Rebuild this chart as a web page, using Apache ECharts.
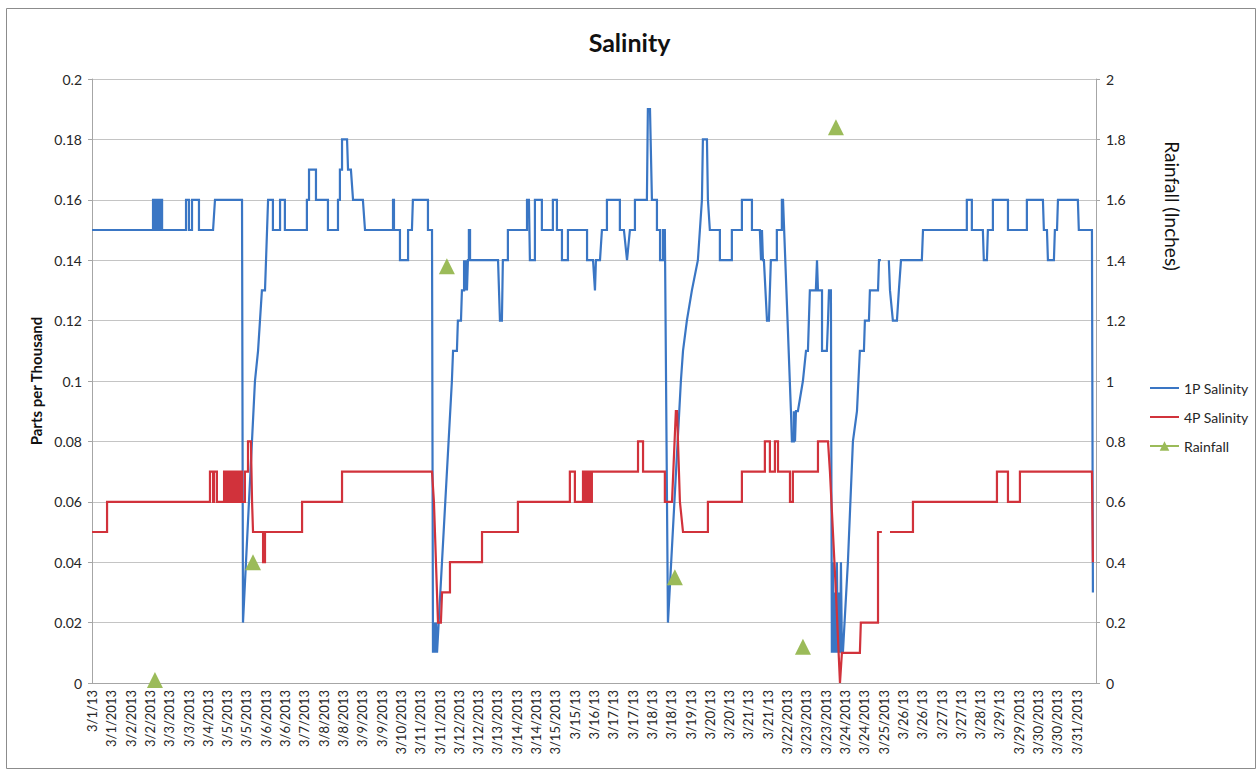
<!DOCTYPE html>
<html>
<head>
<meta charset="utf-8">
<title>Salinity</title>
<script src="https://cdn.jsdelivr.net/npm/echarts@6/dist/echarts.min.js"></script>
<style>
  html, body { margin: 0; padding: 0; background: #ffffff; }
  #chart { width: 1259px; height: 772px; }
</style>
</head>
<body>
<div id="chart"></div>
<script>
// Horizontal positions are given in tick-label slots: slot k sits under tickLabels[k].
const tickLabels = [
  '3/1/13', '3/1/2013', '3/2/2013', '3/2/2013', '3/3/2013', '3/3/2013', '3/4/2013',
  '3/5/2013', '3/5/2013', '3/6/2013', '3/6/2013', '3/7/2013', '3/8/2013', '3/8/2013',
  '3/9/2013', '3/9/2013', '3/10/2013', '3/11/2013', '3/11/2013', '3/12/2013', '3/12/2013',
  '3/13/2013', '3/14/2013', '3/14/2013', '3/15/2013', '3/15/13', '3/16/13', '3/17/13',
  '3/17/13', '3/18/13', '3/18/13', '3/19/13', '3/20/13', '3/20/13', '3/21/13', '3/21/13',
  '3/22/2013', '3/23/2013', '3/23/2013', '3/24/2013', '3/24/2013', '3/25/2013', '3/26/13',
  '3/26/13', '3/27/13', '3/27/13', '3/28/13', '3/29/13', '3/29/2013', '3/30/2013',
  '3/30/2013', '3/31/2013'
];

// 1P salinity (ppt): vertices [slot, value] of the logged trace
const sal1P = [
  [0, 0.15], [3.16, 0.15], [3.16, 0.16], [3.21, 0.16], [3.21, 0.15], [3.31, 0.15], [3.31, 0.16],
  [3.42, 0.16], [3.42, 0.15], [3.52, 0.15], [3.52, 0.16], [3.63, 0.16], [3.63, 0.15],
  [4.87, 0.15], [4.87, 0.16], [5.02, 0.16], [5.02, 0.15], [5.18, 0.15], [5.18, 0.16], [5.54, 0.16], [5.54, 0.15],
  [6.27, 0.15], [6.37, 0.16], [7.77, 0.16], [7.82, 0.02],
  [8.44, 0.10], [8.60, 0.11], [8.70, 0.12], [8.80, 0.13], [8.96, 0.13], [9.12, 0.16],
  [9.37, 0.16], [9.37, 0.15], [9.74, 0.15], [9.74, 0.16], [9.99, 0.16], [9.99, 0.15],
  [11.13, 0.15], [11.13, 0.16], [11.24, 0.16], [11.24, 0.17], [11.60, 0.17], [11.60, 0.16], [12.22, 0.16], [12.22, 0.15],
  [12.74, 0.15], [12.74, 0.16], [12.84, 0.16], [12.84, 0.17], [12.95, 0.17], [12.95, 0.18], [13.21, 0.18],
  [13.26, 0.17], [13.41, 0.17], [13.52, 0.16], [14.03, 0.16], [14.14, 0.15],
  [15.59, 0.15], [15.59, 0.16], [15.64, 0.16], [15.64, 0.15], [15.95, 0.15], [15.95, 0.14], [16.37, 0.14],
  [16.37, 0.15], [16.57, 0.15], [16.62, 0.16], [17.40, 0.16], [17.40, 0.15], [17.61, 0.15],
  [17.66, 0.01], [17.71, 0.02], [17.76, 0.01], [17.82, 0.02], [17.87, 0.01],
  [18.64, 0.10], [18.70, 0.11], [18.90, 0.11], [18.95, 0.12], [19.11, 0.12], [19.16, 0.13], [19.27, 0.13],
  [19.27, 0.14], [19.32, 0.13], [19.37, 0.14], [19.42, 0.13], [19.47, 0.14], [19.52, 0.14], [19.52, 0.15],
  [19.58, 0.15], [19.58, 0.14],
  [21.03, 0.14], [21.13, 0.12], [21.23, 0.12], [21.28, 0.14], [21.54, 0.14], [21.54, 0.15],
  [22.53, 0.15], [22.53, 0.16], [22.63, 0.16], [22.68, 0.14], [22.94, 0.14], [22.94, 0.16], [23.30, 0.16],
  [23.30, 0.15], [23.87, 0.15], [23.87, 0.16], [24.08, 0.16], [24.08, 0.15], [24.34, 0.15], [24.34, 0.14],
  [24.65, 0.14], [24.65, 0.15],
  [25.64, 0.15], [25.64, 0.14], [25.95, 0.14], [26.05, 0.13], [26.10, 0.14], [26.31, 0.14], [26.41, 0.15],
  [26.67, 0.15], [26.67, 0.16], [27.34, 0.16], [27.34, 0.15], [27.55, 0.15], [27.71, 0.14], [27.86, 0.15],
  [28.12, 0.15], [28.12, 0.16],
  [28.74, 0.16], [28.79, 0.19], [28.90, 0.19], [29.00, 0.16], [29.26, 0.16], [29.26, 0.15], [29.42, 0.15],
  [29.42, 0.14], [29.57, 0.14], [29.57, 0.15], [29.67, 0.15], [29.83, 0.02],
  [30.50, 0.10], [30.61, 0.11], [30.81, 0.12], [31.07, 0.13], [31.38, 0.14], [31.59, 0.16], [31.64, 0.18],
  [31.85, 0.18], [31.90, 0.16], [32.00, 0.15], [32.52, 0.15], [32.52, 0.14], [33.14, 0.14], [33.14, 0.15],
  [33.66, 0.15], [33.66, 0.16], [34.18, 0.16], [34.18, 0.15],
  [34.59, 0.15], [34.65, 0.14], [34.70, 0.15], [34.75, 0.14], [34.80, 0.14], [34.96, 0.12], [35.06, 0.12],
  [35.16, 0.14], [35.47, 0.14], [35.47, 0.15], [35.73, 0.15], [35.73, 0.16], [35.79, 0.16],
  [36.20, 0.09], [36.25, 0.08], [36.35, 0.08], [36.35, 0.09], [36.41, 0.08], [36.46, 0.09], [36.56, 0.09],
  [36.82, 0.10], [36.98, 0.11], [37.08, 0.11], [37.18, 0.13], [37.49, 0.13], [37.55, 0.14], [37.60, 0.13],
  [37.81, 0.13], [37.81, 0.11], [38.06, 0.11], [38.12, 0.12], [38.17, 0.13], [38.27, 0.13],
  [38.32, 0.01], [38.37, 0.04], [38.43, 0.01], [38.48, 0.03], [38.53, 0.01], [38.58, 0.04], [38.63, 0.01],
  [38.69, 0.03], [38.74, 0.01], [38.79, 0.04], [38.84, 0.01], [38.89, 0.01],
  [39.15, 0.04], [39.41, 0.08], [39.62, 0.09], [39.77, 0.11], [39.98, 0.11], [40.03, 0.12], [40.24, 0.12],
  [40.29, 0.13], [40.71, 0.13], [40.76, 0.14], [40.86, 0.14],
  [41.07, null],
  [41.27, 0.14], [41.33, 0.13], [41.48, 0.12], [41.69, 0.12], [41.79, 0.13], [41.90, 0.14], [42.98, 0.14],
  [43.04, 0.15], [45.31, 0.15], [45.31, 0.16], [45.57, 0.16], [45.57, 0.15], [46.14, 0.15], [46.19, 0.14],
  [46.35, 0.14], [46.40, 0.15], [46.66, 0.15], [46.66, 0.16], [47.44, 0.16], [47.44, 0.15], [48.42, 0.15],
  [48.42, 0.16], [49.25, 0.16], [49.30, 0.15], [49.46, 0.15], [49.51, 0.14], [49.82, 0.14], [49.87, 0.15],
  [49.98, 0.15], [50.03, 0.16], [51.06, 0.16], [51.11, 0.15], [51.79, 0.15], [51.84, 0.03]
];

// 4P salinity (ppt): vertices [slot, value]
const sal4P = [
  [0, 0.05], [0.78, 0.05], [0.78, 0.06], [6.11, 0.06], [6.11, 0.07], [6.27, 0.07], [6.27, 0.06], [6.32, 0.06],
  [6.32, 0.07], [6.47, 0.07], [6.47, 0.06],
  [6.84, 0.06], [6.84, 0.07], [6.94, 0.07], [6.94, 0.06], [6.99, 0.06], [6.99, 0.07], [7.10, 0.07], [7.10, 0.06],
  [7.15, 0.06], [7.15, 0.07], [7.25, 0.07], [7.25, 0.06], [7.30, 0.06], [7.30, 0.07], [7.41, 0.07], [7.41, 0.06],
  [7.46, 0.06], [7.46, 0.07], [7.56, 0.07], [7.56, 0.06], [7.66, 0.06], [7.66, 0.07], [7.77, 0.07], [7.77, 0.06],
  [7.92, 0.06], [7.92, 0.07], [8.08, 0.07], [8.08, 0.08], [8.23, 0.08], [8.29, 0.06], [8.34, 0.05], [8.86, 0.05],
  [8.86, 0.04], [8.96, 0.04], [8.96, 0.05],
  [10.88, 0.05], [10.88, 0.06], [12.95, 0.06], [12.95, 0.07], [17.61, 0.07], [17.71, 0.06], [17.92, 0.02],
  [18.07, 0.02], [18.13, 0.03], [18.54, 0.03], [18.54, 0.04], [20.20, 0.04], [20.20, 0.05], [22.06, 0.05],
  [22.06, 0.06],
  [24.75, 0.06], [24.75, 0.07], [25.01, 0.07], [25.01, 0.06], [25.43, 0.06], [25.43, 0.07], [25.53, 0.07],
  [25.53, 0.06], [25.58, 0.06], [25.58, 0.07], [25.69, 0.07], [25.69, 0.06], [25.74, 0.06], [25.74, 0.07],
  [25.84, 0.07], [25.84, 0.06], [25.89, 0.06], [25.89, 0.07],
  [28.28, 0.07], [28.28, 0.08], [28.54, 0.08], [28.54, 0.07], [29.67, 0.07], [29.67, 0.06], [30.04, 0.06],
  [30.24, 0.09], [30.30, 0.09], [30.45, 0.06], [30.61, 0.05], [31.90, 0.05], [31.90, 0.06], [33.66, 0.06],
  [33.66, 0.07],
  [34.85, 0.07], [34.85, 0.08], [35.11, 0.08], [35.11, 0.07], [35.37, 0.07], [35.37, 0.08], [35.53, 0.08],
  [35.53, 0.07], [36.15, 0.07], [36.15, 0.06], [36.30, 0.06], [36.30, 0.07], [37.60, 0.07], [37.60, 0.08],
  [38.12, 0.08], [38.22, 0.07], [38.53, 0.03], [38.74, 0.00], [38.84, 0.01], [39.77, 0.01], [39.82, 0.02],
  [40.71, 0.02], [40.71, 0.05], [40.91, 0.05],
  [41.10, null],
  [41.33, 0.05], [42.52, 0.05], [42.52, 0.06],
  [46.87, 0.06], [46.87, 0.07], [47.44, 0.07], [47.44, 0.06], [48.06, 0.06], [48.06, 0.07], [51.79, 0.07],
  [51.84, 0.04]
];

// Rainfall events (inches) and the slots they were logged at
const rainSlots = [3.26, 8.34, 18.38, 30.19, 36.82, 38.53];
const rainInches = [0.01, 0.40, 1.38, 0.35, 0.12, 1.84];

const FONT = 'Lato';
const TEXT = '#262626';
const GRID = '#c4c4c4';
const BLUE = '#3a76c4';
const RED = '#d1323b';
const GREEN = '#9bbb59';

// each rainfall reading stands alone: a gap after every point keeps them unconnected
const rainData = [];
rainSlots.forEach((s, i) => { rainData.push([s, rainInches[i]], [s, null]); });

const chart = echarts.init(document.getElementById('chart'), null, { renderer: 'svg' });

chart.setOption({
  animation: false,
  backgroundColor: '#ffffff',
  textStyle: { fontFamily: FONT, color: TEXT },
  title: {
    text: 'Salinity',
    left: 'center',
    top: 24,
    textStyle: { fontFamily: FONT, fontSize: 25, fontWeight: 'bold', color: '#111' }
  },
  grid: { left: 92, right: 163, top: 79, bottom: 89, containLabel: false },
  legend: {
    orient: 'vertical',
    left: 1144,
    top: 376,
    itemWidth: 29,
    itemHeight: 12,
    itemGap: 15,
    textStyle: { fontFamily: FONT, fontSize: 14, color: TEXT },
    data: [
      // salinity traces carry no markers, so their keys show the line alone
      { name: '1P Salinity', itemStyle: { opacity: 0 } },
      { name: '4P Salinity', itemStyle: { opacity: 0 } },
      { name: 'Rainfall' }
    ]
  },
  xAxis: {
    type: 'value',
    min: 0,
    max: 52,
    interval: 1,
    splitLine: { show: false },
    axisLine: { show: true, lineStyle: { color: '#a6a6a6', width: 1 } },
    axisTick: { show: false },
    axisLabel: {
      rotate: 90,
      margin: 7,
      fontFamily: FONT,
      fontSize: 13,
      color: TEXT,
      formatter: function (v) {
        const k = Math.round(v);
        return Math.abs(v - k) < 1e-6 && tickLabels[k] !== undefined ? tickLabels[k] : '';
      }
    }
  },
  yAxis: [
    {
      type: 'value',
      min: 0,
      max: 0.2,
      interval: 0.02,
      name: 'Parts per Thousand',
      nameLocation: 'middle',
      nameGap: 49,
      nameTextStyle: { fontFamily: FONT, fontSize: 15, fontWeight: 'bold', color: '#111' },
      axisLine: { show: true, lineStyle: { color: '#a6a6a6' } },
      axisTick: { show: true, inside: false, length: 4, lineStyle: { color: '#a6a6a6' } },
      axisLabel: { fontFamily: FONT, fontSize: 14, color: TEXT, margin: 10 },
      splitLine: { show: true, lineStyle: { color: GRID, width: 1 } }
    },
    {
      type: 'value',
      min: 0,
      max: 2,
      interval: 0.2,
      position: 'right',
      axisLine: { show: true, lineStyle: { color: '#a6a6a6' } },
      axisTick: { show: true, inside: false, length: 4, lineStyle: { color: '#a6a6a6' } },
      axisLabel: { fontFamily: FONT, fontSize: 14, color: TEXT, margin: 10 },
      splitLine: { show: false }
    }
  ],
  series: [
    {
      name: '1P Salinity',
      type: 'line',
      yAxisIndex: 0,
      data: sal1P,
      symbol: 'none',
      connectNulls: false,
      lineStyle: { color: BLUE, width: 2.2, join: 'miter' },
      itemStyle: { color: BLUE }
    },
    {
      name: '4P Salinity',
      type: 'line',
      yAxisIndex: 0,
      data: sal4P,
      symbol: 'none',
      connectNulls: false,
      lineStyle: { color: RED, width: 2.2, join: 'miter' },
      itemStyle: { color: RED }
    },
    {
      name: 'Rainfall',
      type: 'line',
      yAxisIndex: 1,
      data: rainData,
      connectNulls: false,
      symbol: 'triangle',
      symbolSize: 16,
      showSymbol: true,
      showAllSymbol: true,
      lineStyle: { color: GREEN, width: 2.2 },
      itemStyle: { color: GREEN }
    }
  ],
  graphic: [
    {
      type: 'rect',
      silent: true,
      z: -10,
      shape: { x: 6.5, y: 8.5, width: 1249, height: 760 },
      style: { fill: 'none', stroke: '#8c8c8c', lineWidth: 1 }
    },
    {
      type: 'text',
      silent: true,
      x: 1172,
      y: 206,
      rotation: -Math.PI / 2,
      style: {
        text: 'Rainfall (Inches)',
        fontFamily: FONT,
        fontSize: 19,
        fill: '#111',
        align: 'center',
        verticalAlign: 'middle'
      }
    }
  ]
});
</script>
</body>
</html>
